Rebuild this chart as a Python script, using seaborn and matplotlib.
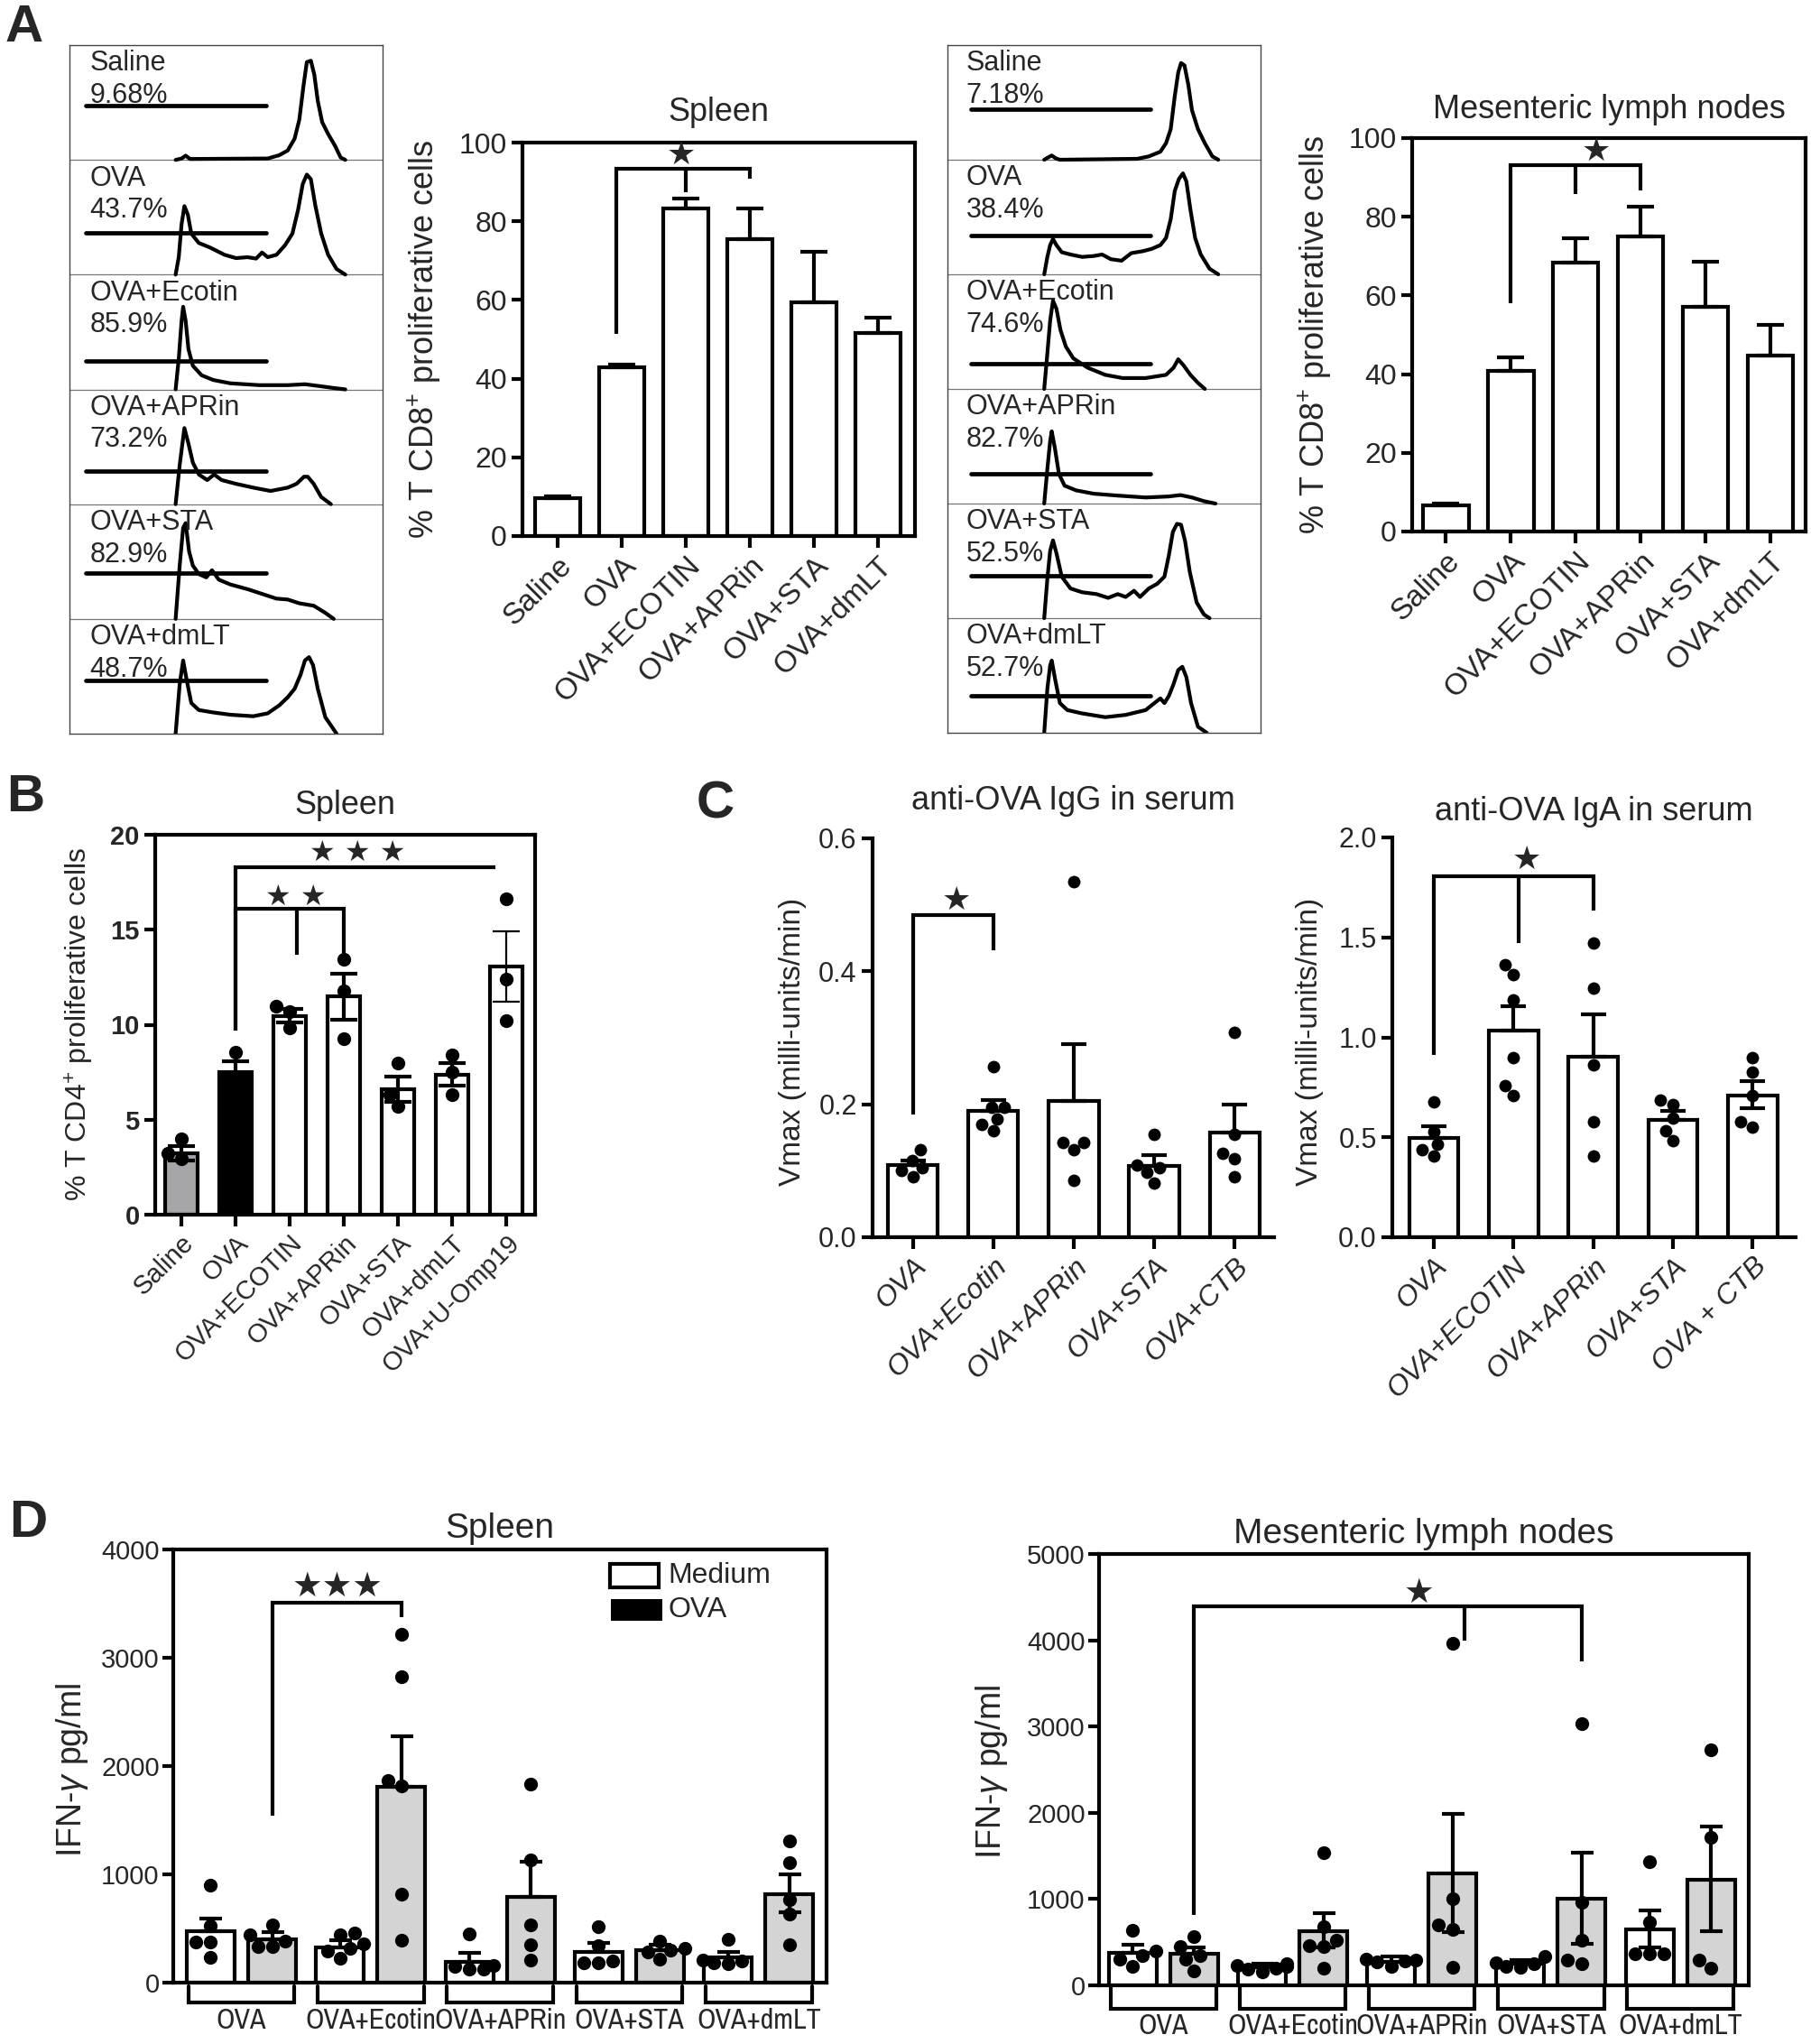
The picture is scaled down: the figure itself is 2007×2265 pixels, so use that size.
import numpy as np
import pandas as pd
import seaborn as sns
import matplotlib.pyplot as plt
from matplotlib import font_manager
from matplotlib.font_manager import FontProperties
from matplotlib.patches import Rectangle
from matplotlib.ticker import FormatStrFormatter

sns.set_style('ticks')
plt.rcParams['font.family'] = ['Liberation Sans', 'DejaVu Sans']
plt.rcParams['mathtext.fontset'] = 'custom'
plt.rcParams['mathtext.rm'] = 'Liberation Sans'
plt.rcParams['mathtext.it'] = 'Liberation Sans:italic'

# condensed face for the D group labels, if one is installed
narrow_file = None
for f in sorted(font_manager.fontManager.ttflist, key=lambda f: ('Liberation' not in f.name, f.name)):
    condensed = 'Narrow' in f.name or 'Condensed' in f.name or f.stretch in ('condensed', 'semi-condensed')
    if condensed and f.style == 'normal' and f.weight in (400, 'normal', 'regular'):
        narrow_file = f.fname
        break
if narrow_file:
    group_font = FontProperties(fname=narrow_file, size=23)
else:
    group_font = FontProperties(family='Liberation Sans', size=18.5)

# ---------------- A: CFSE histograms (x = fraction of panel width, y = fraction of row height)
hist_names = ['Saline', 'OVA', 'OVA+Ecotin', 'OVA+APRin', 'OVA+STA', 'OVA+dmLT']
spl_hist_pct = ['9.68%', '43.7%', '85.9%', '73.2%', '82.9%', '48.7%']
mln_hist_pct = ['7.18%', '38.4%', '74.6%', '82.7%', '52.5%', '52.7%']

spl_hist_x = [
    [.339, .358, .371, .385, .633, .670, .697, .719, .734, .747, .758, .771, .782, .793, .807, .826, .848, .866, .881],
    [.339, .349, .358, .367, .378, .389, .413, .45, .495, .532, .569, .596, .615, .633, .661, .688, .712, .73, .745,
     .758, .771, .785, .804, .826, .853, .881],
    [.339, .349, .358, .363, .371, .38, .394, .422, .459, .514, .606, .697, .752, .798, .844, .881],
    [.339, .352, .367, .380, .394, .413, .440, .462, .486, .532, .587, .642, .697, .725, .749, .761, .780, .804, .835],
    [.339, .352, .363, .371, .382, .394, .413, .437, .455, .477, .514, .569, .624, .661, .697, .734, .780, .817, .844],
    [.339, .352, .363, .374, .389, .413, .459, .514, .587, .633, .670, .697, .719, .738, .752, .765, .778, .793, .817, .853],
]
spl_hist_y = [
    [0, .012, .037, .008, .012, .041, .082, .185, .35, .638, .852, .864, .741, .514, .329, .226, .123, .021, 0],
    [0, .152, .44, .597, .523, .358, .276, .235, .173, .144, .152, .14, .193, .152, .173, .255, .358, .564, .79,
     .872, .831, .605, .358, .173, .049, 0],
    [0, .267, .597, .72, .597, .35, .206, .123, .082, .053, .037, .037, .045, .029, .012, 0],
    [0, .342, .663, .527, .362, .259, .210, .259, .210, .177, .144, .115, .144, .177, .239, .239, .177, .062, 0],
    [0, .465, .794, .835, .588, .465, .391, .362, .424, .342, .300, .259, .210, .177, .169, .136, .115, .053, 0],
    [0, .432, .638, .473, .267, .206, .185, .165, .152, .177, .247, .317, .391, .514, .638, .667, .597, .391, .144, 0],
]
spl_gate_h = [.473, .366, .247, .288, .403, .461]

mln_hist_x = [
    [.309, .322, .333, .346, .359, .606, .643, .680, .698, .713, .726, .737, .746, .757, .769, .781, .80, .822, .846, .865],
    [.309, .319, .328, .337, .348, .365, .393, .430, .467, .494, .522, .556, .587, .624, .652, .680, .698, .713, .726,
     .739, .752, .763, .776, .791, .809, .837, .865],
    [.309, .319, .328, .337, .348, .361, .378, .402, .448, .504, .559, .633, .698, .722, .737, .754, .776, .80, .822],
    [.309, .319, .328, .333, .343, .356, .374, .411, .467, .541, .633, .707, .744, .781, .819, .856],
    [.309, .319, .328, .337, .348, .365, .393, .430, .476, .513, .544, .569, .596, .615, .643, .670, .693, .707, .720,
     .733, .746, .759, .774, .796, .819, .837],
    [.309, .319, .328, .333, .344, .359, .383, .430, .504, .569, .633, .661, .680, .693, .707, .722, .737, .750, .763,
     .778, .80, .828],
]
mln_hist_y = [
    [0, .021, .037, .012, 0, .008, .029, .070, .144, .267, .556, .761, .844, .823, .658, .432, .267, .144, .029, 0],
    [0, .152, .255, .309, .255, .193, .173, .152, .160, .173, .132, .119, .185, .202, .222, .255, .317, .481, .728,
     .831, .881, .811, .564, .317, .173, .049, 0],
    [0, .309, .597, .770, .700, .514, .370, .267, .185, .123, .095, .095, .123, .185, .259, .206, .123, .053, 0],
    [0, .30, .547, .630, .486, .259, .156, .115, .086, .070, .053, .062, .074, .053, .021, 0],
    [0, .342, .588, .679, .568, .362, .259, .226, .210, .177, .210, .185, .239, .185, .259, .300, .362, .547, .753,
     .823, .815, .671, .403, .136, .033, 0],
    [0, .383, .588, .630, .465, .259, .198, .169, .136, .156, .198, .259, .300, .259, .321, .424, .547, .576, .486,
     .259, .053, 0],
]
mln_gate_h = [.44, .337, .218, .259, .374, .321]

# ---------------- A: CD8 proliferation bars
cd8_groups = ['Saline', 'OVA', 'OVA+ECOTIN', 'OVA+APRin', 'OVA+STA', 'OVA+dmLT']
cd8_spl_mean = [9.6, 43.0, 83.3, 75.5, 59.4, 51.6]
cd8_spl_sem = [0.5, 0.6, 2.4, 7.8, 12.8, 4.0]
cd8_mln_mean = [6.6, 40.8, 68.3, 75.0, 57.0, 44.8]
cd8_mln_sem = [0.6, 3.4, 6.3, 7.6, 11.6, 7.8]

# ---------------- B: CD4 proliferation
b_groups = ['Saline', 'OVA', 'OVA+ECOTIN', 'OVA+APRin', 'OVA+STA', 'OVA+dmLT', 'OVA+U-Omp19']
b_colors = ['#a6a6aa', 'black', 'white', 'white', 'white', 'white', 'white']
b_mean = [3.25, 7.49, 10.47, 11.48, 6.61, 7.38, 13.05]
b_sem = [0.38, 0.58, 0.36, 1.2, 0.67, 0.58, 1.86]
b_points = [[3.97, 2.96, 3.23], [8.56, 7.2, 6.7], [10.96, 9.84, 10.7], [13.43, 11.8, 9.24],
            [7.96, 5.72, 6.32], [8.41, 7.51, 6.32], [16.64, 12.42, 10.2]]

# ---------------- C: serum antibodies
igg_groups = ['OVA', 'OVA+Ecotin', 'OVA+APRin', 'OVA+STA', 'OVA+CTB']
igg_mean = [0.108, 0.190, 0.205, 0.107, 0.158]
igg_sem = [0.008, 0.017, 0.085, 0.016, 0.041]
igg_points = [[0.116, 0.091, 0.104, 0.131, 0.100], [0.195, 0.160, 0.257, 0.178, 0.195, 0.170],
              [0.535, 0.143, 0.131, 0.142, 0.085], [0.155, 0.109, 0.082, 0.105, 0.098],
              [0.308, 0.155, 0.126, 0.118, 0.091]]

iga_groups = ['OVA', 'OVA+ECOTIN', 'OVA+APRin', 'OVA+STA', 'OVA + CTB']
iga_mean = [0.496, 1.033, 0.905, 0.586, 0.707]
iga_err_hi = [0.06, 0.125, 0.208, 0.046, 0.075]
iga_err_lo = [0, 0, 0, 0, 0.063]
iga_points = [[0.677, 0.466, 0.526, 0.406, 0.436], [1.316, 1.365, 1.188, 0.898, 0.711, 0.759],
              [1.471, 1.245, 0.862, 0.579, 0.406], [0.684, 0.662, 0.594, 0.534, 0.481],
              [0.898, 0.827, 0.707, 0.549, 0.579]]

# ---------------- D: IFN-gamma
d_groups = ['OVA', 'OVA+Ecotin', 'OVA+APRin', 'OVA+STA', 'OVA+dmLT']
d_stims = ['Medium', 'OVA']

spl_d_mean_med = [472, 328, 194, 282, 232]
spl_d_mean_ova = [403, 1811, 792, 299, 820]
spl_d_hi_med = [117, 61, 78, 83, 50]
spl_d_hi_ova = [64, 461, 325, 50, 176]
spl_d_lo_med = [0, 0, 0, 0, 0]
spl_d_lo_ova = [0, 0, 0, 0, 166]
spl_d_pts_med = [[903, 528, 375, 375, 236], [444, 458, 356, 319, 292, 228], [450, 125, 153, 125, 161],
                 [515, 340, 200, 180, 180], [398, 210, 200, 180, 175]]
spl_d_pts_ova = [[536, 440, 380, 333, 330], [3217, 2828, 1819, 1867, 814, 394], [1833, 1133, 533, 347, 208],
                 [382, 320, 300, 280, 215], [1311, 1106, 764, 631, 349]]

mln_d_mean_med = [376, 209, 272, 250, 647]
mln_d_mean_ova = [363, 626, 1294, 1002, 1219]
mln_d_hi_med = [91, 41, 62, 42, 217]
mln_d_hi_ova = [75, 209, 689, 534, 618]
mln_d_lo_med = [0, 0, 0, 0, 209]
mln_d_lo_ova = [0, 188, 680, 522, 593]
mln_d_pts_med = [[640, 400, 340, 300, 220], [250, 230, 220, 200, 190, 160], [300, 290, 280, 270, 220],
                 [334, 260, 250, 220, 210], [1432, 730, 363, 363, 363]]
mln_d_pts_ova = [[560, 450, 340, 300, 170], [1540, 680, 520, 459, 446, 200], [3965, 1002, 697, 647, 209],
                 [3035, 960, 522, 250, 292], [2734, 1711, 200, 292]]

W, H = 2007, 2265
fig = plt.figure(figsize=(W / 100, H / 100), dpi=100)


def add_axes(x0, y0, x1, y1):
    return fig.add_axes([x0 / W, 1 - y1 / H, (x1 - x0) / W, (y1 - y0) / H])


def style(ax, box=True, lw=3):
    for side in ax.spines:
        ax.spines[side].set_linewidth(lw)
        ax.spines[side].set_color('black')
    if not box:
        ax.spines['top'].set_visible(False)
        ax.spines['right'].set_visible(False)
    ax.tick_params(direction='out', length=9, width=3, color='black')
    ax.set_xlabel('')
    ax.set_ylabel('')


def draw_hist(ax, xs, ys, pcts, gate_x, gate_h, label_x):
    ax.set_xlim(0, 1)
    ax.set_ylim(0, 6)
    ax.set_xticks([])
    ax.set_yticks([])
    for s in ax.spines.values():
        s.set_color('#444444')
        s.set_linewidth(1.0)
    for k in range(1, 6):
        ax.axhline(k, color='#777777', lw=0.9)
    for r in range(6):
        base = 5 - r
        ax.plot(xs[r], np.array(ys[r]) + base, color='black', lw=3.0)
        ax.plot(gate_x, [base + gate_h[r]] * 2, color='black', lw=3.4)
        ax.text(label_x, base + 0.84, hist_names[r], fontsize=22, va='center')
        ax.text(label_x, base + 0.56, pcts[r], fontsize=22, va='center')


def bar_centers(ax):
    return sorted(p.get_x() + p.get_width() / 2 for p in ax.patches)


def bracket(ax, x1, x2, y, end1, end2, mid=None, mid_end=None):
    ax.plot([x1, x1, x2, x2], [end1, y, y, end2], color='black', lw=3, zorder=6,
            solid_joinstyle='miter', solid_capstyle='butt')
    if mid is not None:
        ax.plot([mid, mid], [y, mid_end], color='black', lw=3, zorder=6, solid_capstyle='butt')


def stars(ax, x, y, text, size=26):
    ax.text(x, y, text, ha='center', va='center', fontsize=size, family='DejaVu Sans', zorder=7)


def title(ax, text, yfrac, size):
    ax.text(0.5, yfrac, text, transform=ax.transAxes, ha='center', va='center', fontsize=size)


def ylabel(ax, text, xfrac, size, yfrac=0.5):
    ax.text(xfrac, yfrac, text, transform=ax.transAxes, rotation=90, ha='center', va='center', fontsize=size)


def long_points(groups, points):
    rows = [(g, v) for g, vals in zip(groups, points) for v in vals]
    return pd.DataFrame(rows, columns=['group', 'value'])


# ---------------- panel A
ax = add_axes(77, 50, 424, 813)
draw_hist(ax, spl_hist_x, spl_hist_y, spl_hist_pct, [0.051, 0.628], spl_gate_h, 0.064)
ax = add_axes(1050, 50, 1397, 812)
draw_hist(ax, mln_hist_x, mln_hist_y, mln_hist_pct, [0.074, 0.648], mln_gate_h, 0.059)


def cd8_plot(ax, means, sems, xlim):
    sns.barplot(x=cd8_groups, y=means, color='white', saturation=1, edgecolor='black', linewidth=3,
                width=0.7, errorbar=None, ax=ax)
    c = bar_centers(ax)
    ax.errorbar(c, means, yerr=[np.zeros(len(means)), sems], fmt='none', ecolor='black',
                elinewidth=3, capsize=11, capthick=3, zorder=3)
    style(ax)
    ax.set_ylim(0, 100)
    ax.set_yticks(range(0, 101, 20))
    ax.set_xlim(*xlim)
    ax.set_xticks(range(len(cd8_groups)))
    ax.set_xticklabels(cd8_groups, rotation=45, ha='right', rotation_mode='anchor', fontsize=24)
    ax.tick_params(axis='y', labelsize=23)
    return c


ax = add_axes(579, 158, 1014, 594)
c = cd8_plot(ax, cd8_spl_mean, cd8_spl_sem, (-0.554, 5.58))
bracket(ax, c[1] - 0.09, c[3], 93.3, 51.3, 90.8, c[2], 87.4)
stars(ax, 1.93, 96.8, '★')
title(ax, 'Spleen', 1.076, 26)
ylabel(ax, '% T CD8$^{+}$ proliferative cells', -0.25, 26)

ax = add_axes(1565, 153, 2001, 589)
c = cd8_plot(ax, cd8_mln_mean, cd8_mln_sem, (-0.52, 5.54))
bracket(ax, c[1], c[3], 93.2, 58.0, 86.6, c[2], 85.7)
stars(ax, 2.31, 96.6, '★')
title(ax, 'Mesenteric lymph nodes', 1.073, 26)
ylabel(ax, '% T CD8$^{+}$ proliferative cells', -0.247, 26)

# ---------------- panel B
ax = add_axes(172, 925, 593, 1346)
sns.barplot(x=b_groups, y=b_mean, hue=b_groups, palette=b_colors, saturation=1, legend=False,
            edgecolor='black', linewidth=3, width=0.6, errorbar=None, ax=ax)
c = bar_centers(ax)
ax.errorbar(c[:6], b_mean[:6], yerr=b_sem[:6], fmt='none', ecolor='black', elinewidth=3,
            capsize=11, capthick=3, zorder=3)
ax.errorbar(c[6:], b_mean[6:], yerr=b_sem[6:], fmt='none', ecolor='black', elinewidth=1.6,
            capsize=11, capthick=1.6, zorder=3)
sns.swarmplot(data=long_points(b_groups, b_points), x='group', y='value', order=b_groups,
              color='black', size=11, ax=ax, zorder=4)
style(ax)
ax.set_ylim(0, 20)
ax.set_yticks(range(0, 21, 5))
ax.set_xlim(-0.48, 6.53)
ax.set_xticks(range(len(b_groups)))
ax.set_xticklabels(b_groups, rotation=45, ha='right', rotation_mode='anchor', fontsize=21)
ax.tick_params(axis='y', labelsize=21)
for t in ax.get_yticklabels():
    t.set_fontweight('bold')
bracket(ax, c[1], c[3], 16.12, 9.69, 13.7, 2.13, 13.7)
bracket(ax, c[1], 5.79, 18.27, 9.69, 18.27)
stars(ax, 2.12, 16.7, '★ ★', 23)
stars(ax, 3.25, 19.05, '★ ★ ★', 23)
title(ax, 'Spleen', 1.078, 26)
ylabel(ax, '% T CD4$^{+}$ proliferative cells', -0.2, 23)


# ---------------- panel C
def serum_plot(ax, groups, means, lo, hi, points, ylim, yticks, xlim):
    sns.barplot(x=groups, y=means, color='white', saturation=1, edgecolor='black', linewidth=3,
                width=0.62, errorbar=None, ax=ax)
    c = bar_centers(ax)
    ax.errorbar(c, means, yerr=[lo, hi], fmt='none', ecolor='black', elinewidth=3,
                capsize=10, capthick=3, zorder=3)
    sns.swarmplot(data=long_points(groups, points), x='group', y='value', order=groups,
                  color='black', size=10, ax=ax, zorder=4)
    style(ax, box=False)
    ax.set_ylim(*ylim)
    ax.set_yticks(yticks)
    ax.yaxis.set_major_formatter(FormatStrFormatter('%.1f'))
    ax.set_xlim(*xlim)
    ax.set_xticks(range(len(groups)))
    ax.set_xticklabels(groups, rotation=45, ha='right', rotation_mode='anchor', fontsize=23,
                       fontstyle='italic')
    ax.tick_params(axis='y', labelsize=22)
    return c


ax = add_axes(967, 929, 1412, 1371)
c = serum_plot(ax, igg_groups, igg_mean, np.zeros(5), igg_sem, igg_points, (0, 0.6),
               [0, 0.2, 0.4, 0.6], (-0.5, 4.49))
bracket(ax, c[0], c[1], 0.485, 0.185, 0.432)
stars(ax, 0.54, 0.507, '★')
title(ax, 'anti-OVA IgG in serum', 1.095, 26)
ylabel(ax, 'Vmax (milli-units/min)', -0.2, 24, 0.49)

ax = add_axes(1543, 928, 1990, 1371)
c = serum_plot(ax, iga_groups, iga_mean, iga_err_lo, iga_err_hi, iga_points, (0, 2.0),
               [0, 0.5, 1.0, 1.5, 2.0], (-0.52, 4.54))
bracket(ax, c[0], c[2], 1.808, 0.91, 1.636, 1.06, 1.471)
stars(ax, 1.17, 1.89, '★')
title(ax, 'anti-OVA IgA in serum', 1.065, 26)
ylabel(ax, 'Vmax (milli-units/min)', -0.205, 24, 0.49)


# ---------------- panel D
def ifn_plot(ax, mean_med, mean_ova, lo_med, lo_ova, hi_med, hi_ova, pts_med, pts_ova,
             ymax, xlim, label_pad, brk):
    means = pd.DataFrame({'group': d_groups * 2,
                          'stim': ['Medium'] * 5 + ['OVA'] * 5,
                          'value': mean_med + mean_ova})
    sns.barplot(data=means, x='group', y='value', hue='stim', hue_order=d_stims, order=d_groups,
                palette=['white', '#d4d4d4'], saturation=1, width=0.95, gap=0.22, legend=False,
                edgecolor='black', linewidth=3, errorbar=None, ax=ax)
    c = bar_centers(ax)
    ys, lo, hi, rows = [], [], [], []
    for g in range(5):
        for s, (m, l, h, p) in enumerate([(mean_med, lo_med, hi_med, pts_med),
                                          (mean_ova, lo_ova, hi_ova, pts_ova)]):
            ys.append(m[g])
            lo.append(l[g])
            hi.append(h[g])
            rows += [(c[2 * g + s], v) for v in p[g]]
    ax.errorbar(c, ys, yerr=[lo, hi], fmt='none', ecolor='black', elinewidth=3,
                capsize=9, capthick=3, zorder=3)
    pts = pd.DataFrame(rows, columns=['xpos', 'value'])
    sns.swarmplot(data=pts, x='xpos', y='value', native_scale=True, orient='x',
                  color='black', size=11, ax=ax, zorder=4)
    style(ax)
    ax.set_ylim(0, ymax)
    ax.set_yticks(range(0, ymax + 1, 1000))
    ax.tick_params(axis='y', labelsize=21, pad=2)
    ax.set_xlim(*xlim)
    ax.set_xticks(range(5))
    ax.set_xticklabels(d_groups, fontproperties=group_font)
    ax.tick_params(axis='x', length=0, pad=label_pad)
    tr = ax.get_xaxis_transform()
    for g in range(5):
        ax.plot([g - 0.41, g - 0.41, g + 0.41, g + 0.41], [brk[0], brk[1], brk[1], brk[0]],
                transform=tr, clip_on=False, color='black', lw=3, solid_joinstyle='miter')
    return c


ax = add_axes(192, 1717, 916, 2197)
c = ifn_plot(ax, spl_d_mean_med, spl_d_mean_ova, spl_d_lo_med, spl_d_lo_ova, spl_d_hi_med,
             spl_d_hi_ova, spl_d_pts_med, spl_d_pts_ova, 4000, (-0.527, 4.525), 20, (-0.008, -0.046))
bracket(ax, c[1], c[3], 3506, 1542, 3375)
stars(ax, 0.74, 3650, '★★★', 27)
title(ax, 'Spleen', 1.048, 28)
ylabel(ax, r'IFN-$\gamma$ pg/ml', -0.155, 27, 0.49)
ax.add_patch(Rectangle((0.669, 0.9125), 0.074, 0.0545, transform=ax.transAxes, facecolor='white',
                       edgecolor='black', lw=3, clip_on=False))
ax.add_patch(Rectangle((0.670, 0.835), 0.079, 0.05, transform=ax.transAxes, facecolor='black',
                       edgecolor='black', lw=0, clip_on=False))
ax.text(0.757, 0.94, 'Medium', transform=ax.transAxes, va='center', fontsize=23)
ax.text(0.757, 0.86, 'OVA', transform=ax.transAxes, va='center', fontsize=23)

ax = add_axes(1218, 1722, 1938, 2200)
c = ifn_plot(ax, mln_d_mean_med, mln_d_mean_ova, mln_d_lo_med, mln_d_lo_ova, mln_d_hi_med,
             mln_d_hi_ova, mln_d_pts_med, mln_d_pts_ova, 5000, (-0.498, 4.53), 22, (-0.004, -0.054))
bracket(ax, c[1], c[7], 4395, 814, 3757, c[5] + 0.09, 3995)
stars(ax, 1.98, 4545, '★', 27)
title(ax, 'Mesenteric lymph nodes', 1.046, 28)
ylabel(ax, r'IFN-$\gamma$ pg/ml', -0.165, 27, 0.494)

# ---------------- panel letters
for letter, x, y in [('A', 6, 4), ('B', 7, 857), ('C', 772, 864), ('D', 10, 1661)]:
    fig.text(x / W, 1 - y / H, letter, fontsize=42, fontweight='bold', va='top', ha='left')

fig.savefig('out.png', dpi=100)
